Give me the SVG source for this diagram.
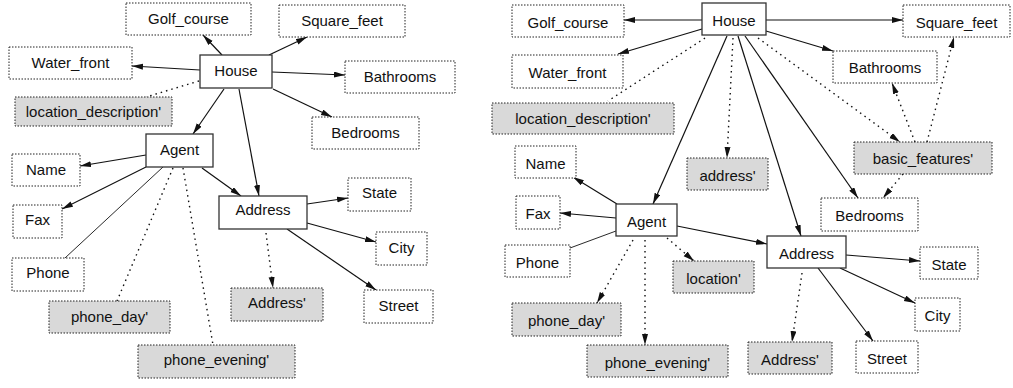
<svg xmlns="http://www.w3.org/2000/svg" width="1013" height="388" viewBox="0 0 1013 388">
<style>
.n rect{fill:#fff;stroke:#222;stroke-width:1;stroke-dasharray:1.5,1.5}
.n.g rect{fill:#d9d9d9}
.n.s rect{stroke-dasharray:none;stroke:#333;stroke-width:1.3}
.n text{font-family:"Liberation Sans",Arial,sans-serif;font-size:15px;fill:#111;text-anchor:middle}
#edges line{stroke:#111;stroke-width:1.2;fill:none}
#edges line.a{marker-end:url(#ah)}
#edges line.d{stroke-dasharray:1.5,4;stroke-width:1.4}
#edges line.t{stroke-width:0.9}
</style>
<defs>
<marker id="ah" markerUnits="userSpaceOnUse" markerWidth="12" markerHeight="8" refX="11" refY="3" orient="auto">
<path d="M0,0 L11,3 L0,6 Z" fill="#111"/>
</marker>
</defs>
<rect width="1013" height="388" fill="#fff"/>
<g id="edges">
<!-- left diagram -->
<line class="a" x1="222" y1="55" x2="203" y2="35"/>
<line class="a" x1="269" y1="55" x2="307" y2="37"/>
<line class="a" x1="200" y1="70" x2="132" y2="66"/>
<line class="a" x1="272" y1="72" x2="345" y2="75"/>
<line class="d" x1="199" y1="81" x2="146" y2="97"/>
<line class="a" x1="273" y1="89" x2="332" y2="117"/>
<line class="a" x1="224" y1="89" x2="193" y2="134"/>
<line class="a" x1="239" y1="89" x2="259" y2="196"/>
<line class="a" x1="146" y1="155" x2="80" y2="166"/>
<line class="a" x1="202" y1="168" x2="241" y2="196"/>
<line class="a" x1="146" y1="167" x2="62" y2="209"/>
<line class="t" x1="163" y1="167" x2="65" y2="258"/>
<line class="d" x1="173" y1="168" x2="117" y2="301"/>
<line class="d" x1="183" y1="168" x2="213" y2="345"/>
<line class="a" x1="307" y1="204" x2="348" y2="198"/>
<line class="a" x1="307" y1="223" x2="376" y2="242"/>
<line class="a" x1="287" y1="229" x2="376" y2="290"/>
<line class="a d" x1="266" y1="233" x2="273" y2="288"/>
<!-- right diagram -->
<line class="a" x1="702" y1="20" x2="624" y2="20"/>
<line class="a" x1="766" y1="20" x2="903" y2="20"/>
<line class="a" x1="702" y1="29" x2="618" y2="54"/>
<line class="a" x1="766" y1="31" x2="833" y2="51"/>
<line class="d" x1="705" y1="38" x2="608" y2="101"/>
<line class="a d" x1="733" y1="38" x2="727" y2="158"/>
<line class="a d" x1="758" y1="38" x2="900" y2="142"/>
<line class="a" x1="727" y1="36" x2="653" y2="204"/>
<line class="a" x1="738" y1="36" x2="801" y2="236"/>
<line class="a" x1="745" y1="36" x2="858" y2="198"/>
<line class="a d" x1="915" y1="142" x2="892" y2="83"/>
<line class="a d" x1="927" y1="142" x2="954" y2="37"/>
<line class="a d" x1="903" y1="174" x2="883" y2="198"/>
<line class="a" x1="617" y1="204" x2="573" y2="177"/>
<line class="a" x1="616" y1="218" x2="560" y2="213"/>
<line class="t" x1="616" y1="231" x2="570" y2="248"/>
<line class="a d" x1="633" y1="240" x2="597" y2="303"/>
<line class="a d" x1="645" y1="240" x2="645" y2="345"/>
<line class="a d" x1="667" y1="238" x2="694" y2="261"/>
<line class="a" x1="677" y1="226" x2="767" y2="244"/>
<line class="a" x1="846" y1="255" x2="920" y2="261"/>
<line class="a" x1="840" y1="268" x2="915" y2="303"/>
<line class="a" x1="818" y1="268" x2="873" y2="341"/>
<line class="a d" x1="802" y1="273" x2="792" y2="342"/>
</g>
<!-- left nodes -->
<g id="L-golf" class="n"><rect x="126" y="3" width="125" height="32"/><text x="188.5" y="24">Golf_course</text></g>
<g id="L-sqft" class="n"><rect x="279" y="5" width="126" height="32"/><text x="342" y="26">Square_feet</text></g>
<g id="L-water" class="n"><rect x="9" y="47" width="123" height="32"/><text x="70.5" y="68">Water_front</text></g>
<g id="L-house" class="n s"><rect x="200" y="55" width="72" height="33"/><text x="236" y="76">House</text></g>
<g id="L-bath" class="n"><rect x="345" y="61" width="110" height="32"/><text x="400" y="82">Bathrooms</text></g>
<g id="L-locdesc" class="n g"><rect x="15" y="97" width="157" height="29"/><text x="93.5" y="117">location_description'</text></g>
<g id="L-bed" class="n"><rect x="312" y="117" width="107" height="32"/><text x="365.5" y="138">Bedrooms</text></g>
<g id="L-agent" class="n s"><rect x="146" y="134" width="67" height="33"/><text x="179.5" y="155">Agent</text></g>
<g id="L-name" class="n"><rect x="12" y="154" width="68" height="32"/><text x="46" y="175">Name</text></g>
<g id="L-state" class="n"><rect x="348" y="178" width="63" height="33"/><text x="379.5" y="198">State</text></g>
<g id="L-address" class="n s"><rect x="219" y="196" width="88" height="33"/><text x="263" y="215">Address</text></g>
<g id="L-fax" class="n"><rect x="13" y="205" width="49" height="33"/><text x="37.5" y="225">Fax</text></g>
<g id="L-city" class="n"><rect x="376" y="232" width="51" height="33"/><text x="401.5" y="253">City</text></g>
<g id="L-phone" class="n"><rect x="12" y="258" width="72" height="33"/><text x="48" y="278">Phone</text></g>
<g id="L-addrp" class="n g"><rect x="231" y="288" width="92" height="33"/><text x="277" y="308">Address'</text></g>
<g id="L-street" class="n"><rect x="364" y="290" width="69" height="33"/><text x="398.5" y="311">Street</text></g>
<g id="L-pday" class="n g"><rect x="49" y="301" width="121" height="32"/><text x="109.5" y="322">phone_day'</text></g>
<g id="L-peve" class="n g"><rect x="138" y="345" width="157" height="33"/><text x="216.5" y="365">phone_evening'</text></g>
<!-- right nodes -->
<g id="R-golf" class="n"><rect x="512" y="5" width="112" height="32"/><text x="568" y="28">Golf_course</text></g>
<g id="R-house" class="n s"><rect x="702" y="3" width="64" height="32"/><text x="734" y="26">House</text></g>
<g id="R-sqft" class="n"><rect x="903" y="5" width="107" height="32"/><text x="956.5" y="28">Square_feet</text></g>
<g id="R-water" class="n"><rect x="512" y="55" width="111" height="33"/><text x="567.5" y="78">Water_front</text></g>
<g id="R-bath" class="n"><rect x="833" y="51" width="104" height="32"/><text x="885" y="73">Bathrooms</text></g>
<g id="R-locdesc" class="n g"><rect x="492" y="103" width="182" height="31"/><text x="583" y="124">location_description'</text></g>
<g id="R-basic" class="n g"><rect x="854" y="142" width="138" height="32"/><text x="923" y="164">basic_features'</text></g>
<g id="R-name" class="n"><rect x="515" y="146" width="61" height="32"/><text x="545.5" y="169">Name</text></g>
<g id="R-addrl" class="n g"><rect x="687" y="158" width="81" height="32"/><text x="727.5" y="181">address'</text></g>
<g id="R-bed" class="n"><rect x="821" y="198" width="97" height="33"/><text x="869.5" y="221">Bedrooms</text></g>
<g id="R-fax" class="n"><rect x="516" y="196" width="44" height="33"/><text x="538" y="219">Fax</text></g>
<g id="R-agent" class="n s"><rect x="616" y="204" width="61" height="32"/><text x="646.5" y="227">Agent</text></g>
<g id="R-address" class="n s"><rect x="767" y="236" width="79" height="32"/><text x="806.5" y="259">Address</text></g>
<g id="R-phone" class="n"><rect x="505" y="245" width="65" height="32"/><text x="537.5" y="268">Phone</text></g>
<g id="R-state" class="n"><rect x="920" y="247" width="58" height="32"/><text x="949" y="270">State</text></g>
<g id="R-loc" class="n g"><rect x="673" y="261" width="81" height="32"/><text x="713.5" y="284">location'</text></g>
<g id="R-city" class="n"><rect x="915" y="298" width="45" height="33"/><text x="937.5" y="321">City</text></g>
<g id="R-pday" class="n g"><rect x="512" y="303" width="109" height="33"/><text x="566.5" y="326">phone_day'</text></g>
<g id="R-street" class="n"><rect x="856" y="341" width="62" height="32"/><text x="887" y="364">Street</text></g>
<g id="R-addrp" class="n g"><rect x="748" y="342" width="84" height="32"/><text x="790" y="365">Address'</text></g>
<g id="R-peve" class="n g"><rect x="587" y="345" width="141" height="32"/><text x="657.5" y="368">phone_evening'</text></g>
</svg>
